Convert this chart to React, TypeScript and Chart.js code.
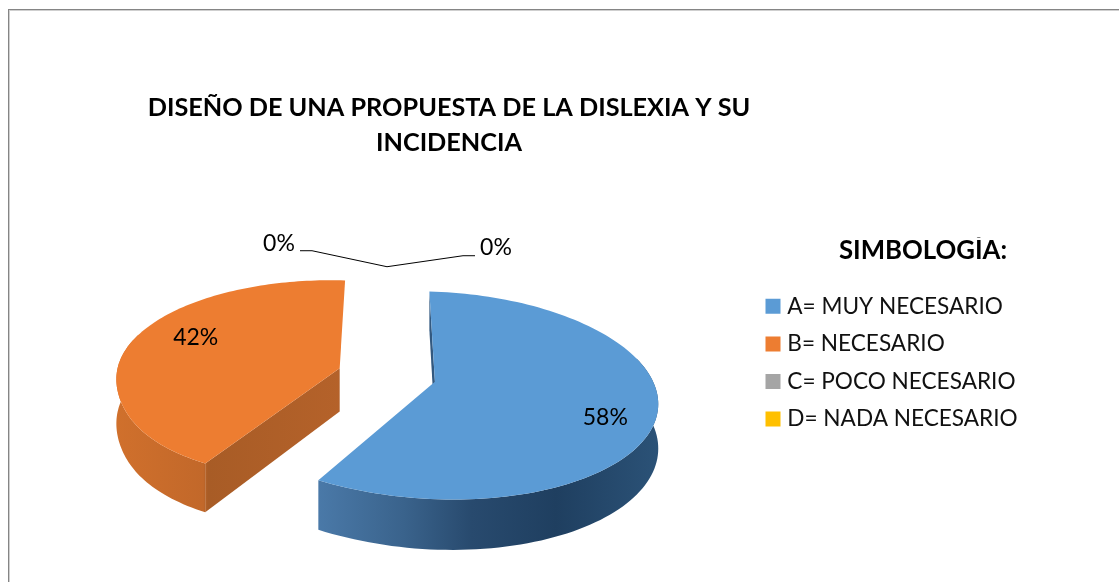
import React, { useEffect, useRef } from "react";
import { Chart } from "chart.js/auto";

const categories = ["A= MUY NECESARIO", "B= NECESARIO", "C= POCO NECESARIO", "D= NADA NECESARIO"];
const percentages = [58, 42, 0, 0];
const colors = ["#5B9BD5", "#ED7D31", "#A5A5A5", "#FFC000"];
const titleLines = ["DISEÑO DE UNA PROPUESTA DE LA DISLEXIA Y SU", "INCIDENCIA"];
const legendTitle = "SIMBOLOGÍA:";

const FONT = "Lato, Carlito, sans-serif";

// Perspective view of the pie plane
const VIEW = { cx: 387, cy: 375, a: 220.5, c: 5.65, d: 100.7, e: -0.13, f: 0.005, depth: 43.5, warp: 33 };
const project = (u: number, v: number) => {
  const den = 1 + VIEW.e * v + VIEW.f * u;
  const warp = u < 0 && v > 0 ? VIEW.warp * u * u * v * v * v : 0;
  return {
    x: VIEW.cx + (VIEW.a * u) / den - warp,
    y: VIEW.cy + (VIEW.c * u + VIEW.d * v) / den,
    drop: VIEW.depth / den,
  };
};

const wallStops: Record<number, [number, string][]> = {
  0: [[0, "#4a79a8"], [0.25, "#3a638c"], [0.45, "#284a6e"], [0.7, "#1f3f60"], [1, "#2b5277"]],
  1: [[0, "#d0702c"], [0.38, "#c2682a"], [0.4, "#a85c26"], [1, "#b5622a"]],
};
const labelNudge: Record<number, [number, number]> = { 0: [16, 14], 1: [1, -10], 2: [-108, -23], 3: [109, -19] };

const pie3d = {
  id: "pie3d",
  beforeDraw(chart: any) {
    const { ctx, width, height } = chart;
    ctx.save();
    ctx.fillStyle = "#ffffff";
    ctx.fillRect(0, 0, width, height);
    ctx.fillStyle = "#858585";
    ctx.fillRect(8, 9, width - 8, 1);
    ctx.fillRect(8, 9, 1, height - 9);
    ctx.fillStyle = "#cfcfcf";
    ctx.fillRect(9, 10, width - 9, 1);
    ctx.fillRect(9, 10, 1, height - 10);
    ctx.restore();
  },
  afterUpdate(chart: any) {
    const t = chart.titleBlock;
    t.left = 0;
    t.right = 898;
    t.top = 90;
    const l = chart.legend;
    const dx = 770 - l.legendHitBoxes[0].left;
    const dy = 295 - l.legendHitBoxes[0].top;
    l.legendHitBoxes.forEach((h: any) => {
      h.left += dx;
      h.top += dy;
    });
    l.left += dx;
    l.right += dx;
    l.top += dy;
    l.bottom += dy;
    l.width = 2 * (923 - l.left);
  },
  beforeDatasetDraw(chart: any, args: any) {
    const { ctx } = chart;
    const arcs = chart.getDatasetMeta(args.index).data;
    const geom = (arc: any) => {
      const R = arc.outerRadius;
      const mid = (arc.startAngle + arc.endAngle) / 2;
      const off = (arc.options.offset || 0) / R;
      const ox = off * Math.cos(mid);
      const oy = off * Math.sin(mid);
      return {
        mid,
        at: (ang: number, r: number) => project(ox + r * Math.cos(ang), oy + r * Math.sin(ang)),
      };
    };
    const polygon = (pts: { x: number; y: number }[]) => {
      ctx.beginPath();
      pts.forEach((p, i) => (i ? ctx.lineTo(p.x, p.y) : ctx.moveTo(p.x, p.y)));
      ctx.closePath();
    };
    ctx.save();
    arcs.forEach((arc: any, i: number) => {
      if (arc.endAngle - arc.startAngle < 1e-6) return;
      const g = geom(arc);
      const rim: any[] = [];
      const front: any[] = [];
      const n = 120;
      for (let k = 0; k <= n; k++) {
        const ang = arc.startAngle + ((arc.endAngle - arc.startAngle) * k) / n;
        const p = g.at(ang, 1);
        rim.push(p);
        if (Math.sin(ang) > -0.3) front.push(p);
      }
      const apex = g.at(0, 0);
      const down = (p: any) => ({ x: p.x, y: p.y + p.drop });
      const xs = rim.map((p) => p.x);
      const x0 = Math.min(...xs);
      const x1 = Math.max(...xs);
      const grad = ctx.createLinearGradient(x0, 0, x1, 0);
      (wallStops[i] || [[0, colors[i]], [1, colors[i]]]).forEach(([s, c]: any) => grad.addColorStop(s, c));
      ctx.fillStyle = grad;
      polygon([apex, rim[0], down(rim[0]), down(apex)]);
      ctx.fill();
      polygon([...front, ...front.map(down).reverse()]);
      ctx.fill();
      ctx.fillStyle = arc.options.backgroundColor;
      polygon([apex, ...rim]);
      ctx.fill();
    });
    // data labels and leader lines
    ctx.fillStyle = "#000";
    ctx.font = `23px ${FONT}`;
    ctx.textAlign = "center";
    ctx.textBaseline = "middle";
    const total = percentages.reduce((s, v) => s + v, 0);
    arcs.forEach((arc: any, i: number) => {
      const g = geom(arc);
      const zero = percentages[i] === 0;
      const anchor = g.at(g.mid, zero ? 1.25 : 0.7);
      const [nx, ny] = labelNudge[i];
      const tx = anchor.x + nx;
      const ty = anchor.y + ny;
      ctx.fillText(`${Math.round((percentages[i] / total) * 100)}%`, tx, ty);
      if (zero) {
        const dir = nx < 0 ? -1 : 1;
        const tail = tx - dir * 21;
        const knee = tail - dir * 12;
        ctx.strokeStyle = "#000";
        ctx.lineWidth = 1;
        ctx.beginPath();
        ctx.moveTo(anchor.x, anchor.y);
        ctx.lineTo(knee, ty + (dir < 0 ? 7 : 8));
        ctx.lineTo(tail, ty + (dir < 0 ? 7 : 8));
        ctx.stroke();
      }
    });
    ctx.restore();
    return false;
  },
};

export default function App() {
  const ref = useRef<HTMLCanvasElement>(null);
  useEffect(() => {
    document.body.style.margin = "0";
    const chart = new Chart(ref.current as HTMLCanvasElement, {
      type: "pie",
      data: {
        labels: categories,
        datasets: [
          {
            data: percentages,
            backgroundColor: colors,
            borderWidth: 0,
            radius: 100,
            offset: (ctx: any) => (percentages[ctx.dataIndex] > 0 ? 22.3 : 0),
          } as any,
        ],
      },
      options: {
        responsive: false,
        animation: false,
        events: [],
        layout: { padding: 0 },
        plugins: {
          title: {
            display: true,
            text: titleLines,
            color: "#000",
            font: { family: FONT, size: 25.25, weight: "bold", lineHeight: 1.39 },
            padding: 0,
          },
          tooltip: { enabled: false },
          legend: {
            display: true,
            position: "right",
            align: "start",
            title: {
              display: true,
              text: legendTitle,
              color: "#000",
              font: { family: FONT, size: 25.75, weight: "bold" },
              padding: { top: 0, bottom: 11.7 },
            },
            labels: {
              boxWidth: 6,
              boxHeight: 6,
              padding: 15,
              color: "#111",
              font: { family: FONT, size: 22.6 },
              generateLabels: (c: any) =>
                (Chart as any).overrides.doughnut.plugins.legend.labels
                  .generateLabels(c)
                  .map((it: any) => ({ ...it, lineWidth: 9, strokeStyle: it.fillStyle })),
            },
          },
        },
      },
      plugins: [pie3d],
    } as any);
    return () => chart.destroy();
  }, []);
  return <canvas ref={ref} width={1119} height={582} style={{ display: "block" }} />;
}
